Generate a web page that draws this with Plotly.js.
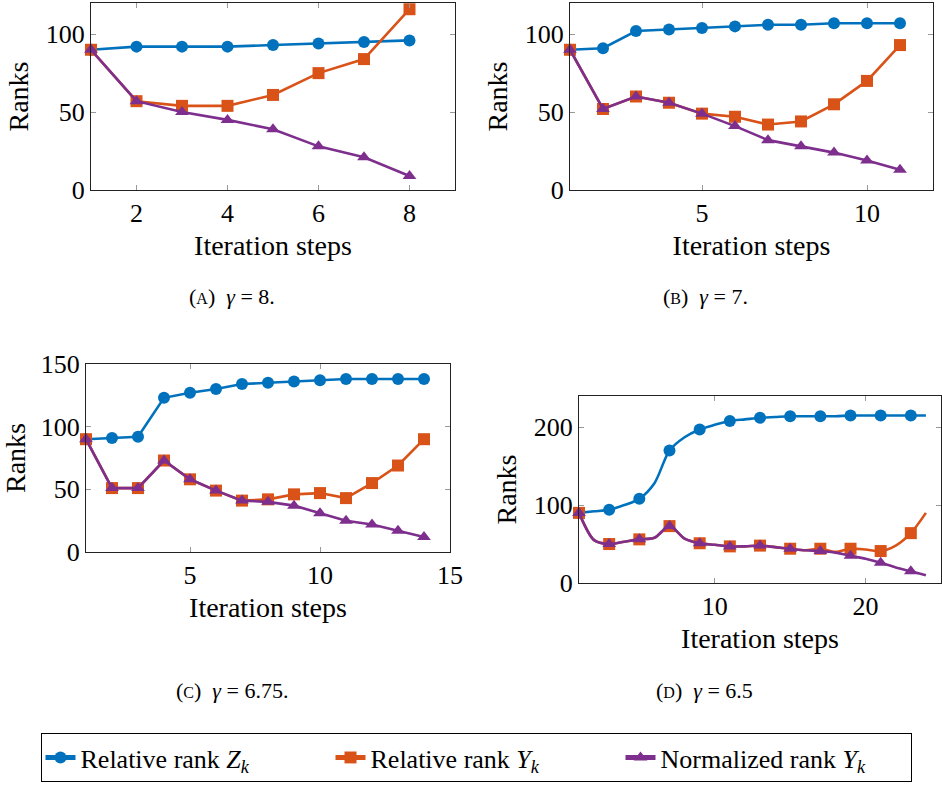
<!DOCTYPE html>
<html><head><meta charset="utf-8">
<script src="https://cdn.plot.ly/plotly-3.0.1.min.js"></script>
<style>
html,body{margin:0;padding:0;background:#fff}
#chart{width:942px;height:787px}
#chart svg text, #chart svg tspan{font-family:"Liberation Serif",serif !important}
</style>
</head><body><div id="chart"></div>
<script>
// ---- data ----
const xA = [1,2,3,4,5,6,7,8];
const zA = [90,92,92,92,93,94,95,96];
const yRelA = [90,57,54,54,61,75,84,116];
const yNormA = [90,57,50,45,39,28,21,9];

const xB = [1,2,3,4,5,6,7,8,9,10,11];
const zB = [90,91,102,103,104,105,106,106,107,107,107];
const yRelB = [90,52,60,56,49,47,42,44,55,70,93];
const yNormB = [90,52,60,56,49,41,32,28,24,19,13];

const xC = [1,2,3,4,5,6,7,8,9,10,11,12,13,14];
const zC = [90,91,92,123,127,130,134,135,136,137,138,138,138,138];
const yRelC = [90,51,51,73,58,49,41,42,46,47,43,55,69,90];
const yNormC = [90,51,51,73,58,49,41,40,37,31,25,22,17,12];

const xD = [1,2,3,4,5,6,7,8,9,10,11,12,13,14,15,16,17,18,19,20,21,22,23,24];
const zD = [90,92,94,100,108,128,170,187,197,203,208,210,212,213,214,214,214,214,215,215,215,215,215,215];
const yRelD = [90,55,50,53,56,58,73,57,51,49,47,47,48,46,44,42,44,40,44,43,41,48,64,90];
const yNormD = [90,55,50,53,56,58,73,57,51,49,47,47,48,46,44,42,41,39,35,31,26,20,15,10];

const seriesNames = ['Relative rank <i>Z</i><sub><i>k</i></sub>', 'Relative rank <i>Y</i><sub><i>k</i></sub>', 'Normalized rank <i>Y</i><sub><i>k</i></sub>'];
const captions = ['(<span style="font-size:16px">A</span>)  <i>γ</i> = 8.', '(<span style="font-size:16px">B</span>)  <i>γ</i> = 7.', '(<span style="font-size:16px">C</span>)  <i>γ</i> = 6.75.', '(<span style="font-size:16px">D</span>)  <i>γ</i> = 6.5'];

// ---- styles ----
const colors = ['#0072BD', '#D95319', '#7E2F8E'];
const symbols = ['circle', 'square', 'triangle-up'];
const FONT = 'Liberation Serif';
const TICK = 26, LAB = 28;

const panels = [
  {x: xA, ys: [zA, yRelA, yNormA], xa: 'x', ya: 'y', smooth: false},
  {x: xB, ys: [zB, yRelB, yNormB], xa: 'x2', ya: 'y2', smooth: false},
  {x: xC, ys: [zC, yRelC, yNormC], xa: 'x3', ya: 'y3', smooth: false},
  {x: xD, ys: [zD, yRelD, yNormD], xa: 'x4', ya: 'y4', smooth: true}
];

const traces = [];
panels.forEach((p, pi) => {
  p.ys.forEach((y, si) => {
    traces.push({
      x: p.x, y: y, xaxis: p.xa, yaxis: p.ya,
      type: 'scatter', mode: 'lines+markers', name: seriesNames[si],
      legendgroup: 's' + si, showlegend: pi === 0,
      line: {color: colors[si], width: 2.6, shape: p.smooth ? 'spline' : 'linear', smoothing: 0.8},
      marker: {color: colors[si], symbol: symbols[si], opacity: 1,
        size: p.smooth ? p.x.map(v => v % 2 === 1 ? 12 : 0) : 12, line: {width: 0}},
      cliponaxis: false, hoverinfo: 'skip'
    });
  });
});

function xax(domain, range, dtick, anchor) {
  return {domain: domain, range: range, dtick: dtick, tick0: 0, anchor: anchor,
    showgrid: false, zeroline: false, showline: true, linecolor: '#222', linewidth: 1, mirror: 'ticks',
    ticks: 'inside', ticklen: 5, tickcolor: '#999', tickwidth: 1,
    tickfont: {family: FONT, size: TICK, color: '#000'},
    title: {text: 'Iteration steps', font: {family: FONT, size: LAB, color: '#000'}, standoff: 8},
    automargin: false, fixedrange: true};
}
function yax(domain, range, dtick, anchor) {
  return {domain: domain, range: range, dtick: dtick, tick0: 0, anchor: anchor,
    showgrid: false, zeroline: false, showline: true, linecolor: '#222', linewidth: 1, mirror: 'ticks',
    ticks: 'inside', ticklen: 5, tickcolor: '#999', tickwidth: 1,
    tickfont: {family: FONT, size: TICK, color: '#000'},
    title: {text: 'Ranks', font: {family: FONT, size: LAB, color: '#000'}, standoff: 8},
    automargin: false, fixedrange: true};
}

const W = 942, H = 787;
const px = (a, b) => [a / W, b / W];
const py = (top, bot) => [1 - bot / H, 1 - top / H];

const layout = {
  width: W, height: H,
  margin: {l: 0, r: 0, t: 0, b: 0},
  paper_bgcolor: '#fff', plot_bgcolor: '#fff',
  font: {family: FONT, size: TICK, color: '#000'},
  xaxis: xax(px(91, 455), [1, 9], 2, 'y'),
  yaxis: yax(py(3, 190), [0, 120], 50, 'x'),
  xaxis2: xax(px(570, 933), [1, 12], 5, 'y2'),
  yaxis2: yax(py(3, 190), [0, 120], 50, 'x2'),
  xaxis3: xax(px(86, 450), [1, 15], 5, 'y3'),
  yaxis3: yax(py(364, 552), [0, 150], 50, 'x3'),
  xaxis4: xax(px(579, 941), [1, 25], 10, 'y4'),
  yaxis4: yax(py(396, 583), [0, 240], 100, 'x4'),
  showlegend: true,
  legend: {orientation: 'h', x: 476 / W, xanchor: 'center', y: 1 - 733 / H, yanchor: 'top',
    bordercolor: '#000', borderwidth: 1, bgcolor: '#fff',
    font: {family: FONT, size: 26, color: '#000'}, itemsizing: 'constant', entrywidth: 245},
  annotations: [
    {text: captions[0], x: 232 / W, y: 1 - 297 / H},
    {text: captions[1], x: 705 / W, y: 1 - 297 / H},
    {text: captions[2], x: 232 / W, y: 1 - 690 / H},
    {text: captions[3], x: 704 / W, y: 1 - 690 / H}
  ].map(a => Object.assign({xref: 'paper', yref: 'paper', showarrow: false, xanchor: 'center', yanchor: 'middle',
    font: {family: FONT, size: 22, color: '#000'}}, a))
};

Plotly.newPlot('chart', traces, layout, {staticPlot: true});
</script>
</body></html>
